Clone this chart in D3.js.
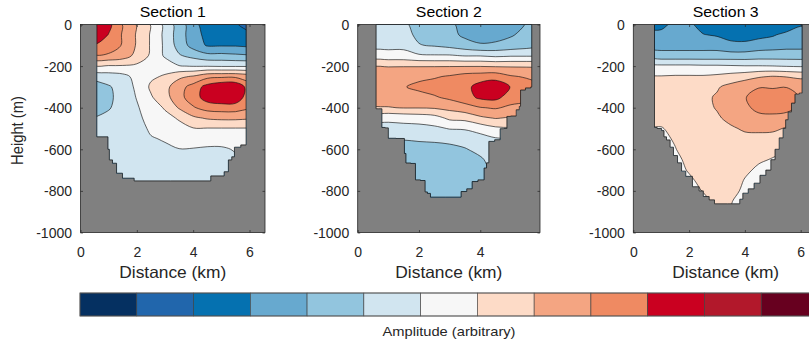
<!DOCTYPE html>
<html>
<head>
<meta charset="utf-8">
<script src="https://cdn.jsdelivr.net/npm/d3@7"></script>
<style>
  body { margin: 0; background: #ffffff; }
  svg { display: block; }
</style>
</head>
<body>
<svg id="chart" width="809" height="346"></svg>
<script>
// ---- grid on which the amplitude fields are sampled ----
const distanceKm = [0.5, 1.0, 1.5, 2.0, 2.5, 3.0, 3.5, 4.0, 4.5, 5.0, 5.5, 6.0, 6.5];
const heightM = [0, -50, -100, -150, -200, -250, -300, -350, -400, -450,
                 -500, -550, -600, -650, -700, -750, -800, -850, -900];

// amplitude, one row per height, one column per distance
const section1Amp = [
  [ 4.6,  3.8,  2.45, 1.45, 0.45, -0.75, -2.0, -3.05, -4.2, -4.4, -4.4, -4.9, -5.2],
  [ 4.3,  3.45, 2.4,  1.4,  0.4,  -0.75, -2.0, -3.05, -3.8, -4.2, -4.2, -4.3, -4.6],
  [ 3.4,  3.2,  2.4,  1.4,  0.4,  -0.7,  -1.9, -2.9,  -3.6, -3.6, -3.6, -3.7, -3.8],
  [ 2.4,  2.3,  2.0,  1.2,  0.35, -0.65, -1.4, -1.8,  -2.2, -2.2, -2.3, -2.4, -2.5],
  [ 0.4,  0.4,  0.4,  0.3,  0.0,   0.1,  -0.45,-0.55, -0.55,-0.6, -0.6, -0.6, -0.6],
  [-1.2, -1.0, -0.8, -0.2,  0.35,  0.6,   1.3,  1.6,   2.2,  2.3,  2.3,  2.0,  1.8],
  [-2.0, -1.6, -1.1, -0.3,  0.65,  1.2,   2.1,  2.9,   3.9,  4.4,  4.4,  3.0,  2.8],
  [-2.1, -1.7, -1.1, -0.45, 0.4,   1.1,   2.2,  3.0,   4.0,  4.3,  4.2,  2.9,  2.8],
  [-2.0, -1.6, -1.0, -0.6,  0.0,   0.6,   1.6,  2.4,   2.9,  3.0,  3.0,  2.6,  2.5],
  [-1.45,-1.2, -0.9, -0.7, -0.2,   0.2,   0.6,  1.3,   1.6,  1.7,  1.7,  1.6,  1.5],
  [-1.2, -1.0, -0.9, -0.75,-0.4,  -0.1,   0.2,  0.45,  0.45, 0.45, 0.45, 0.45, 0.45],
  [-1.1, -1.0, -0.9, -0.8, -0.55, -0.45, -0.2, -0.1,  -0.2, -0.2, -0.2, -0.1,  0.0],
  [-1.0, -1.0, -0.95,-0.85,-0.7,  -0.6,  -0.52,-0.55, -0.6, -0.6, -0.45,-0.3, -0.3],
  [-1.0, -1.0, -1.0, -0.9, -0.8,  -0.8,  -0.7, -0.75, -0.8, -0.85,-0.6, -0.5, -0.5],
  [-1.0, -1.0, -1.0, -1.0, -0.9,  -0.9,  -0.85,-0.9,  -0.9, -0.95,-0.7, -0.6, -0.6],
  [-1.0, -1.0, -1.0, -1.0, -1.0,  -1.0,  -0.95,-1.0,  -1.0, -1.0, -0.8, -0.7, -0.7],
  [-1.0, -1.0, -1.0, -1.0, -1.0,  -1.0,  -1.0, -1.0,  -1.0, -1.0, -0.9, -0.8, -0.8],
  [-1.0, -1.0, -1.0, -1.0, -1.0,  -1.0,  -1.0, -1.0,  -1.0, -1.0, -0.9, -0.8, -0.8],
  [-1.0, -1.0, -1.0, -1.0, -1.0,  -1.0,  -1.0, -1.0,  -1.0, -1.0, -0.9, -0.8, -0.8]
];

const section2Amp = [
  [-0.9, -1.0, -1.3, -1.9, -2.0, -2.2, -3.0, -3.0, -3.1, -3.0, -2.45,-2.2, -2.2],
  [-0.9, -1.0, -1.2, -1.7, -2.0, -2.2, -2.7, -2.9, -2.9, -2.6, -2.2, -2.0, -2.0],
  [-0.8, -0.8, -0.8, -1.45,-1.6, -1.8, -2.1, -2.4, -2.3, -2.1, -1.9, -1.7, -1.7],
  [-0.1, -0.1, -0.1, -0.35,-0.4, -0.4, -0.55,-0.55,-0.7, -0.6, -0.6, -0.6, -0.6],
  [ 1.45, 1.45, 1.45, 1.45, 1.45, 1.45, 1.45, 1.45, 1.4,  1.4,  1.4,  1.4,  1.4],
  [ 2.0,  2.1,  2.3,  2.3,  2.4,  2.6,  2.9,  3.0,  3.1,  2.6,  2.4,  2.2,  2.2],
  [ 2.2,  2.3,  2.45, 2.7,  2.9,  3.2,  3.2,  3.9,  4.2,  3.45, 3.0,  2.7,  2.7],
  [ 1.9,  2.0,  2.1,  2.2,  2.4,  2.7,  3.1,  3.7,  3.8,  3.0,  2.8,  2.6,  2.6],
  [ 1.4,  1.45, 1.55, 1.55, 1.6,  1.8,  2.1,  2.45, 2.6,  2.3,  2.2,  2.1,  2.1],
  [-0.3, -0.3, -0.2, -0.1,  0.1,  0.7,  0.8,  1.3,  1.55, 1.4,  1.3,  1.2,  1.2],
  [-0.8, -0.8, -0.8, -0.8, -0.7, -0.45,-0.4, -0.1,  0.3,  0.4,  0.3,  0.3,  0.3],
  [-1.45,-1.45,-1.45,-1.4, -1.4, -1.3, -1.2, -0.9, -0.6, -0.55,-0.55,-0.55,-0.55],
  [-1.8, -1.8, -1.9, -1.8, -1.7, -1.7, -1.55,-1.3, -1.0, -0.9, -0.9, -0.9, -0.9],
  [-1.9, -1.9, -2.0, -2.0, -2.0, -2.0, -1.8, -1.6, -1.2, -1.1, -1.1, -1.1, -1.1],
  [-1.9, -1.9, -2.0, -2.0, -2.0, -2.0, -2.0, -1.7, -1.3, -1.1, -1.1, -1.1, -1.1],
  [-1.9, -1.9, -2.0, -2.0, -2.0, -2.0, -2.0, -1.6, -1.3, -1.1, -1.1, -1.1, -1.1],
  [-1.9, -1.9, -2.0, -2.0, -2.0, -2.0, -1.9, -1.6, -1.3, -1.1, -1.1, -1.1, -1.1],
  [-1.9, -1.9, -2.0, -2.0, -2.0, -2.0, -1.9, -1.6, -1.3, -1.1, -1.1, -1.1, -1.1],
  [-1.9, -1.9, -2.0, -2.0, -2.0, -2.0, -1.9, -1.6, -1.3, -1.1, -1.1, -1.1, -1.1]
];

const section3Amp = [
  [-3.8, -3.7, -3.3, -3.3, -3.9, -4.2, -4.3, -4.4, -4.4, -4.3, -4.2, -3.6, -3.6],
  [-3.3, -3.3, -3.2, -3.2, -3.45,-3.6, -3.9, -4.0, -3.8, -3.6, -3.2, -3.0, -3.0],
  [-2.9, -2.9, -2.9, -2.9, -2.9, -2.9, -3.2, -3.2, -3.0, -2.9, -2.8, -2.8, -2.8],
  [-2.1, -2.1, -2.1, -2.1, -2.1, -2.1, -2.1, -2.1, -2.0, -2.0, -2.0, -2.0, -2.0],
  [-0.3, -0.3, -0.3, -0.3, -0.35,-0.35,-0.4, -0.45,-0.45,-0.48,-0.55,-0.6, -0.6],
  [ 0.55, 0.55, 0.6,  0.6,  0.6,  0.7,  0.9,  1.1,  1.4,  1.55, 1.45, 1.3,  1.3],
  [ 0.9,  1.0,  1.1,  1.2,  1.25, 1.4,  1.8,  2.2,  2.45, 2.35, 2.45, 2.2,  2.2],
  [ 1.0,  1.1,  1.2,  1.3,  1.3,  1.6,  2.1,  2.45, 2.9,  3.3,  3.2,  2.4,  2.4],
  [ 1.0,  1.1,  1.2,  1.3,  1.3,  1.55, 2.0,  2.35, 2.7,  3.1,  2.9,  2.2,  2.2],
  [ 0.9,  1.0,  1.15, 1.25, 1.35, 1.4,  1.7,  2.0,  2.3,  2.1,  2.0,  1.6,  1.6],
  [ 0.4,  0.4,  0.9,  1.2,  1.3,  1.3,  1.4,  1.6,  1.7,  1.7,  1.4,  1.2,  1.2],
  [ 0.2,  0.2,  0.62, 1.1,  1.2,  1.2,  1.2,  1.3,  1.2,  1.1,  0.8,  0.8,  0.8],
  [ 0.1,  0.1,  0.45, 1.0,  1.1,  1.1,  1.1,  1.1,  0.9,  0.7,  0.55, 0.5,  0.5],
  [ 0.1,  0.1,  0.2,  0.8,  1.0,  1.05, 1.0,  0.9,  0.6,  0.45, 0.3,  0.3,  0.3],
  [ 0.1,  0.1,  0.1,  0.6,  0.9,  1.0,  0.95, 0.65, 0.35, 0.3,  0.3,  0.3,  0.3],
  [ 0.1,  0.1,  0.1,  0.3,  0.8,  0.95, 0.9,  0.45, 0.2,  0.2,  0.3,  0.3,  0.3],
  [ 0.1,  0.1,  0.1,  0.1,  0.55, 0.9,  0.8,  0.3,  0.1,  0.2,  0.3,  0.3,  0.3],
  [ 0.1,  0.1,  0.1,  0.1,  0.2,  0.8,  0.55, 0.1,  0.1,  0.2,  0.3,  0.3,  0.3],
  [ 0.1,  0.1,  0.1,  0.1,  0.1,  0.7,  0.45, 0.1,  0.1,  0.2,  0.3,  0.3,  0.3]
];

// seabed outline of each section: [distance km, height m], surface-left round to surface-right
const section1Bathy = [
  [0.58, 0], [0.58, -540], [0.95, -540], [1.0, -600], [1.05, -651], [1.22, -667],
  [1.34, -715], [1.64, -739], [2.17, -752], [4.24, -752], [5.01, -728], [5.19, -708],
  [5.31, -651], [5.43, -636], [5.5, -590], [5.88, -579], [5.88, 0]
];
const section2Bathy = [
  [0.6, 0], [0.6, -405], [0.78, -405], [0.8, -495], [1.0, -497], [1.0, -547],
  [1.5, -548], [1.55, -620], [1.6, -666], [1.87, -668], [1.9, -747], [2.2, -750],
  [2.2, -805], [2.35, -812], [2.4, -830], [3.35, -830], [3.4, -803], [3.72, -790],
  [3.75, -755], [4.1, -747], [4.15, -690], [4.26, -665], [4.3, -562], [4.64, -554],
  [4.66, -501], [4.86, -500], [4.88, -442], [5.1, -440], [5.25, -410], [5.3, -394],
  [5.33, -315], [5.62, -305], [5.68, -300], [5.68, 0]
];
const section3Bathy = [
  [0.76, 0], [0.76, -495], [0.95, -500], [1.08, -510], [1.12, -540], [1.26, -555],
  [1.38, -590], [1.5, -630], [1.67, -665], [1.79, -705], [1.97, -730], [2.27, -780],
  [2.45, -800], [2.57, -827], [2.87, -843], [2.95, -862], [3.78, -862], [3.85, -840],
  [4.0, -811], [4.24, -790], [4.42, -763], [4.66, -725], [4.84, -700], [5.02, -650],
  [5.14, -600], [5.32, -545], [5.42, -500], [5.5, -458], [5.6, -420], [5.74, -378],
  [5.85, -335], [6.05, -330], [6.05, 0]
];

// 13 amplitude classes, lowest to highest
const levelColors = ["#053061", "#2166ac", "#0571b0", "#67a9cf", "#92c5de", "#d1e5f0",
                     "#f7f7f7", "#fddbc7", "#f4a582", "#ef8a62", "#ca0020", "#b2182b", "#67001f"];
const levelThresholds = [-6.5, -5.5, -4.5, -3.5, -2.5, -1.5, -0.5, 0.5, 1.5, 2.5, 3.5, 4.5, 5.5];

const sectionTitles = ["Section 1", "Section 2", "Section 3"];
const xTickValues = [0, 2, 4, 6];
const yTickValues = [0, -200, -400, -600, -800, -1000];

// ---- layout ----
const plotTop = 24.5, plotBottom = 232.5;
const panels = [
  { amp: section1Amp, bathy: section1Bathy, left: 80.5,  right: 265,  xMax: 6.55 },
  { amp: section2Amp, bathy: section2Bathy, left: 357.7, right: 540,  xMax: 5.95 },
  { amp: section3Amp, bathy: section3Bathy, left: 633.3, right: 818,  xMax: 6.62 }
];
const textColor = "#262626";
const fontFamily = "'Liberation Sans', Arial, Helvetica, sans-serif";

const svg = d3.select("#chart");
const ys = d3.scaleLinear().domain([-1000, 0]).range([plotBottom, plotTop]);

const nx = distanceKm.length, ny = heightM.length;
const dKm = distanceKm[1] - distanceKm[0];
const dH = heightM[1] - heightM[0];
const contourGen = d3.contours().size([nx, ny]).thresholds(levelThresholds);
const ringLine = d3.line().curve(d3.curveCatmullRomClosed.alpha(0.5));

panels.forEach((p, i) => {
  const xs = d3.scaleLinear().domain([0, p.xMax]).range([p.left, p.right]);
  const g = svg.append("g");

  const boxId = "box" + i;
  svg.append("clipPath").attr("id", boxId)
    .append("rect").attr("x", p.left).attr("y", plotTop)
    .attr("width", p.right - p.left).attr("height", plotBottom - plotTop);

  // seabed / land shown in grey
  g.append("rect")
    .attr("x", p.left).attr("y", plotTop)
    .attr("width", p.right - p.left).attr("height", plotBottom - plotTop)
    .attr("fill", "#808080");

  // water column, outlined by the stepped bathymetry
  const waterLine = d3.line().x(d => xs(d[0])).y(d => ys(d[1])).curve(d3.curveStep);
  const waterD = waterLine(p.bathy) + "Z";
  const waterId = "water" + i;
  svg.append("clipPath").attr("id", waterId).append("path").attr("d", waterD);

  // grid coordinates -> distance/height -> pixels
  const toPixel = ([gx, gy]) => [
    xs(distanceKm[0] + (gx - 0.5) * dKm),
    ys(heightM[0] + (gy - 0.5) * dH)
  ];
  const bandPath = geom => geom.coordinates
    .map(poly => poly.map(ring => ringLine(ring.slice(0, -1).map(toPixel))).join(""))
    .join("");

  const bands = contourGen(p.amp.flat());

  const inner = g.append("g").attr("clip-path", `url(#${boxId})`)
    .append("g").attr("clip-path", `url(#${waterId})`);

  inner.selectAll("path.band")
    .data(bands)
    .join("path")
    .attr("class", "band")
    .attr("d", bandPath)
    .attr("fill-rule", "evenodd")
    .attr("fill", (d, k) => levelColors[k])
    .attr("stroke", "none");

  inner.selectAll("path.iso")
    .data(bands.slice(1))
    .join("path")
    .attr("class", "iso")
    .attr("d", bandPath)
    .attr("fill", "none")
    .attr("stroke", "#141414")
    .attr("stroke-width", 0.65)
    .attr("stroke-linejoin", "round");

  // seabed edge
  g.append("g").attr("clip-path", `url(#${boxId})`)
    .append("path").attr("d", waterD)
    .attr("fill", "none").attr("stroke", "#141414").attr("stroke-width", 0.8);

  // axes, inward ticks on all four sides
  const tickLen = 2.5;
  const xt = xTickValues.filter(v => v >= 0 && v <= p.xMax);
  const axB = g.append("g").attr("transform", `translate(0,${plotBottom})`)
    .call(d3.axisBottom(xs).tickValues(xt).tickSizeInner(-tickLen).tickSizeOuter(0)
      .tickPadding(14.5).tickFormat(d => String(d)));
  const axT = g.append("g").attr("transform", `translate(0,${plotTop})`)
    .call(d3.axisTop(xs).tickValues(xt).tickSizeInner(-tickLen).tickSizeOuter(0)
      .tickFormat(() => ""));
  const axL = g.append("g").attr("transform", `translate(${p.left},0)`)
    .call(d3.axisLeft(ys).tickValues(yTickValues).tickSizeInner(-tickLen).tickSizeOuter(0)
      .tickPadding(8.5).tickFormat(d => String(d)));
  const axR = g.append("g").attr("transform", `translate(${p.right},0)`)
    .call(d3.axisRight(ys).tickValues(yTickValues).tickSizeInner(-tickLen).tickSizeOuter(0)
      .tickFormat(() => ""));
  [axB, axT, axL, axR].forEach(a => {
    a.attr("color", textColor).attr("font-family", fontFamily).attr("font-size", 14);
    a.select(".domain").remove();
    a.selectAll("line").attr("stroke-width", 0.7);
  });
  axL.selectAll("text").attr("dy", "0.35em");

  // axes box
  g.append("rect")
    .attr("x", p.left).attr("y", plotTop)
    .attr("width", p.right - p.left).attr("height", plotBottom - plotTop)
    .attr("fill", "none").attr("stroke", textColor).attr("stroke-width", 0.8);

  const cx = (p.left + p.right) / 2;
  g.append("text")
    .attr("x", cx).attr("y", 17.3)
    .attr("text-anchor", "middle")
    .attr("font-family", fontFamily).attr("font-size", 15)
    .attr("textLength", 66).attr("lengthAdjust", "spacingAndGlyphs")
    .attr("fill", "#000")
    .text(sectionTitles[i]);

  g.append("text")
    .attr("x", cx).attr("y", 278.3)
    .attr("text-anchor", "middle")
    .attr("font-family", fontFamily).attr("font-size", 16.5)
    .attr("textLength", 107).attr("lengthAdjust", "spacingAndGlyphs")
    .attr("fill", textColor)
    .text("Distance (km)");

  if (i === 0) {
    g.append("text")
      .attr("transform", `translate(23.3,${(plotTop + plotBottom) / 2 + 2}) rotate(-90)`)
      .attr("text-anchor", "middle")
      .attr("font-family", fontFamily).attr("font-size", 16)
      .attr("textLength", 69).attr("lengthAdjust", "spacingAndGlyphs")
      .attr("fill", textColor)
      .text("Height (m)");
  }
});

// ---- colour bar ----
const cbLeft = 80, cbRight = 818, cbTop = 293, cbHeight = 23;
const cbScale = d3.scaleLinear().domain([0, levelColors.length]).range([cbLeft, cbRight]);
const cb = svg.append("g");
cb.selectAll("rect.cell")
  .data(levelColors)
  .join("rect")
  .attr("class", "cell")
  .attr("x", (d, k) => cbScale(k))
  .attr("y", cbTop)
  .attr("width", (d, k) => cbScale(k + 1) - cbScale(k))
  .attr("height", cbHeight)
  .attr("fill", d => d)
  .attr("stroke", "#3c3c3c")
  .attr("stroke-width", 0.6);
cb.append("rect")
  .attr("x", cbLeft).attr("y", cbTop)
  .attr("width", cbRight - cbLeft).attr("height", cbHeight)
  .attr("fill", "none").attr("stroke", "#5a5a5a").attr("stroke-width", 0.8);
cb.append("text")
  .attr("x", (cbLeft + cbRight) / 2).attr("y", 336)
  .attr("text-anchor", "middle")
  .attr("font-family", fontFamily).attr("font-size", 12.6)
  .attr("textLength", 133).attr("lengthAdjust", "spacingAndGlyphs")
  .attr("fill", textColor)
  .text("Amplitude (arbitrary)");
</script>
</body>
</html>
